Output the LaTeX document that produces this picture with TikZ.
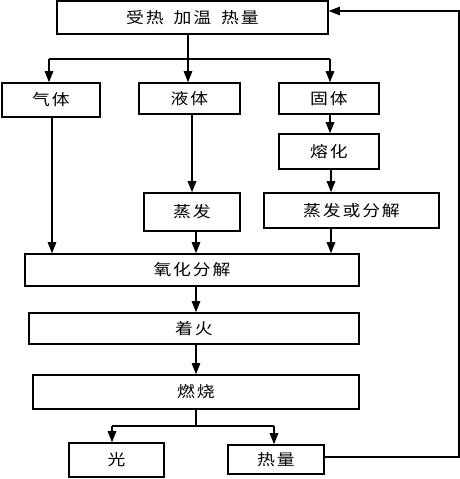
\documentclass[tikz,border=0pt]{standalone}
\usepackage{fontspec}
\setmainfont{Noto Sans CJK SC}[FakeStretch=1.15, LetterSpace=12]
\usetikzlibrary{arrows.meta}
\begin{document}
\begin{tikzpicture}[x=1pt,y=-1pt,
  box/.style={draw, line width=1.6pt, inner sep=0pt, font=\fontsize{15.5pt}{18pt}\selectfont},
  conn/.style={line width=1.4pt},
  arr/.style={line width=1.4pt, -{Triangle[length=11pt,width=8.5pt]}}]
\useasboundingbox (0,0) rectangle (460,479);
% boxes
\node[box, minimum width=271pt, minimum height=33pt] (top) at (192.5,17.5) {受热\hspace{10pt}加温\hspace{10pt}热量};
\node[box, minimum width=98pt, minimum height=34pt] (gas) at (51,100) {气体};
\node[box, minimum width=101pt, minimum height=31pt] (liq) at (189.5,98.5) {液体};
\node[box, minimum width=100pt, minimum height=31pt] (sol) at (329,98.5) {固体};
\node[box, minimum width=100pt, minimum height=35pt] (melt) at (329,151.5) {熔化};
\node[box, minimum width=96pt, minimum height=38pt] (evap) at (192,212) {蒸发};
\node[box, minimum width=175pt, minimum height=35pt] (evdec) at (351.5,210.5) {蒸发或分解};
\node[box, minimum width=334pt, minimum height=32pt] (oxid) at (192,270) {氧化分解};
\node[box, minimum width=330pt, minimum height=31pt] (ign) at (194,328.5) {着火};
\node[box, minimum width=326pt, minimum height=34pt] (burn) at (196,392) {燃烧};
\node[box, minimum width=95pt, minimum height=34pt] (light) at (116.5,460) {光};
\node[box, minimum width=96pt, minimum height=29pt] (heat) at (276,459.5) {热量};
% helper coordinates
\coordinate (xa) at (49,0);
\coordinate (xb) at (188,0);
\coordinate (xc) at (330,0);
\coordinate (xd) at (52,0);
\coordinate (xe) at (192,0);
\coordinate (xf) at (196,0);
\coordinate (xg) at (331,0);
\coordinate (xh) at (112,0);
\coordinate (xi) at (274,0);
\coordinate (ya) at (0,59);
\coordinate (yb) at (0,426);
\coordinate (fbR) at (459,457);
\coordinate (fbT) at (459,11);
\coordinate (yf) at (0,11);
% top branching
\draw[conn] (top.south -| xb) -- (xb |- ya);
\draw[conn] (xa |- ya) -- (xc |- ya);
\draw[arr] (xa |- ya) -- (gas.north -| xa);
\draw[arr] (xb |- ya) -- (liq.north -| xb);
\draw[arr] (xc |- ya) -- (sol.north -| xc);
% middle
\draw[arr] (sol.south -| xc) -- (melt.north -| xc);
\draw[arr] (gas.south -| xd) -- (oxid.north -| xd);
\draw[arr] (liq.south -| xe) -- (evap.north -| xe);
\draw[arr] (evap.south -| xf) -- (oxid.north -| xf);
\draw[arr] (melt.south -| xg) -- (evdec.north -| xg);
\draw[arr] (evdec.south -| xg) -- (oxid.north -| xg);
\draw[arr] (oxid.south -| xf) -- (ign.north -| xf);
\draw[arr] (ign.south -| xf) -- (burn.north -| xf);
% bottom branching
\draw[conn] (burn.south -| xf) -- (xf |- yb);
\draw[conn] (xh |- yb) -- (xi |- yb);
\draw[arr] (xh |- yb) -- (light.north -| xh);
\draw[arr] (xi |- yb) -- (heat.north -| xi);
% feedback
\draw[arr, line width=1.3pt] (heat.east |- fbR) -- (fbR) -- (fbT) -- (top.east |- yf);
\end{tikzpicture}
\end{document}
